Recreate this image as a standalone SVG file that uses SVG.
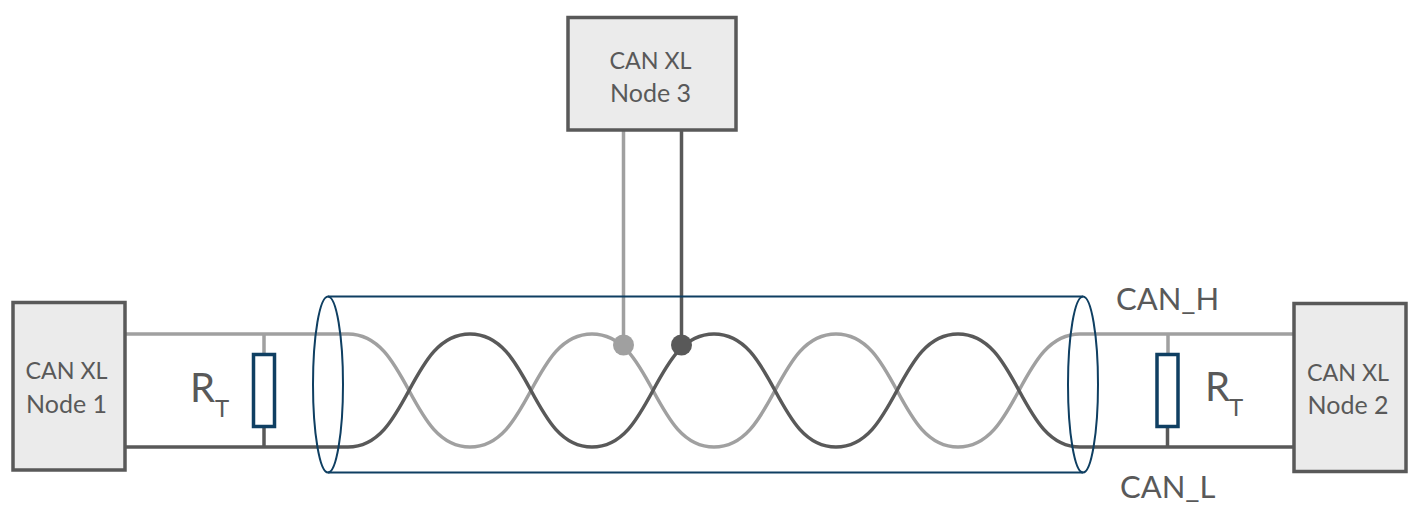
<svg xmlns="http://www.w3.org/2000/svg" width="1420" height="520" viewBox="0 0 1420 520">
<style>
text{font-family:"Lato","Open Sans","Liberation Sans",sans-serif;fill:#595959}
.n{font-size:23.300px;text-anchor:middle}
.m{font-size:25px;text-anchor:middle}
.box{fill:#ebebeb;stroke:#595959;stroke-width:3.500}
.h{fill:none;stroke:#a0a0a0;stroke-width:3.500}
.l{fill:none;stroke:#595959;stroke-width:3.500}
.sh{fill:none;stroke:#0f3f62;stroke-width:2}
.r{fill:#fff;stroke:#0f3f62;stroke-width:3.500}
.lab{font-size:31px}
.rt{font-size:40px}
.sub{font-size:24px}
</style>
<g id="connectors">
<path class="h" d="M125,334H348C409,334 409,447 470,447S531,334 592,334S653,447 714,447S775,334 836,334S897,447 958,447S1019,334 1080,334H1293"/>
<path class="l" d="M125,447H348C409,447 409,334 470,334S531,447 592,447S653,334 714,334S775,447 836,447S897,334 958,334S1019,447 1080,447H1293"/>
<path class="h" d="M623.500,130V345M264,334V354M1168,334V354"/>
<path class="l" d="M681.500,130V345M264,427V447M1167.500,427V447"/>
<circle cx="623.500" cy="345" r="10.500" fill="#a0a0a0"/>
<circle cx="681.500" cy="345" r="10.500" fill="#595959"/>
</g>
<g id="cable">
<path class="sh" d="M328,296.500H1083M328,472.500H1083"/>
<ellipse class="sh" cx="328" cy="384.500" rx="15" ry="88"/>
<ellipse class="sh" cx="1083" cy="384.500" rx="15" ry="88"/>
</g>
<g id="node1"><rect class="box" x="13" y="302.500" width="112" height="167.500"/>
<text class="n" x="66.500" y="379">CAN XL</text><text class="m" x="66.500" y="413">Node 1</text></g>
<g id="node2"><rect class="box" x="1294" y="303.500" width="112" height="168"/>
<text class="n" x="1348" y="381">CAN XL</text><text class="m" x="1348" y="414">Node 2</text></g>
<g id="node3"><rect class="box" x="568" y="17.500" width="168" height="112.500"/>
<text class="n" x="650.500" y="69">CAN XL</text><text class="m" x="650.500" y="102">Node 3</text></g>
<g id="rt1"><rect class="r" x="253.500" y="354.500" width="21" height="72"/>
<text class="rt" x="190" y="402">R</text><text class="sub" x="215" y="417">T</text></g>
<g id="rt2"><rect class="r" x="1157" y="354.500" width="21" height="72"/>
<text class="rt" x="1205" y="401">R</text><text class="sub" x="1229" y="416">T</text></g>
<text class="lab" x="1116" y="310">CAN_H</text>
<text class="lab" x="1120" y="498">CAN_L</text>
</svg>
